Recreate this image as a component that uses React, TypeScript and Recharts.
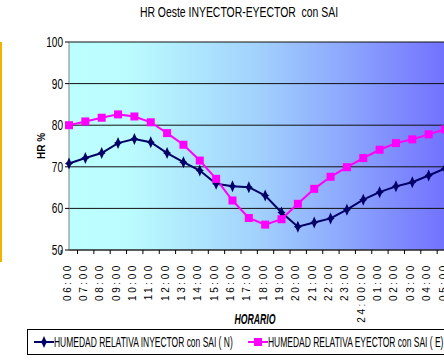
import React from "react";
import { LineChart, Line, XAxis, YAxis, CartesianGrid, Legend } from "recharts";

const hours = [
  "06:00", "07:00", "08:00", "09:00", "10:00", "11:00", "12:00", "13:00",
  "14:00", "15:00", "16:00", "17:00", "18:00", "19:00", "20:00", "21:00",
  "22:00", "23:00", "24:00:00", "01:00", "02:00", "03:00", "04:00", "05:00",
];
const inyector = [
  70.8, 72.1, 73.3, 75.7, 76.7, 75.9, 73.3, 71.1, 69.1, 65.9, 65.3, 65.1,
  63.1, 59.0, 55.6, 56.6, 57.6, 59.7, 62.1, 63.9, 65.3, 66.3, 67.9, 69.6,
];
const eyector = [
  80.0, 80.9, 81.8, 82.6, 82.1, 80.7, 78.1, 75.3, 71.5, 67.1, 61.9, 57.7,
  56.1, 57.4, 61.1, 64.7, 67.6, 69.9, 72.1, 74.1, 75.7, 76.6, 77.8, 79.0,
];
const yTicks = [50, 60, 70, 80, 90, 100];

const data = hours.map((h, i) => ({ hora: h, iny: inyector[i], eye: eyector[i] }));

const ARIAL = "'Liberation Sans', Arial, sans-serif";

const W = 458;
const H = 360;
const M = { top: 42, right: 13, left: 29, bottom: 5 };
const Y_W = 40;
const BAND = (W - M.left - M.right - Y_W) / hours.length;

const series = [
  { key: "iny", name: "HUMEDAD RELATIVA INYECTOR con SAI ( N)", color: "#000066", shape: "diamond", x: 6 },
  { key: "eye", name: "HUMEDAD RELATIVA EYECTOR con SAI ( E)", color: "#ff00ff", shape: "square", x: 220 },
];

const Diamond = ({ cx, cy, color }: any) => {
  if (cx == null || cy == null) return null;
  return (
    <polygon
      points={`${cx},${cy - 6} ${cx + 2},${cy - 1.5} ${cx + 4},${cy} ${cx + 2},${cy + 1.5} ${cx},${cy + 6} ${cx - 2},${cy + 1.5} ${cx - 4},${cy} ${cx - 2},${cy - 1.5}`}
      fill={color}
    />
  );
};

const Square = ({ cx, cy, color }: any) => {
  if (cx == null || cy == null) return null;
  return <rect x={cx - 4} y={cy - 4} width={8} height={8} fill={color} />;
};

const HourTick = ({ x, y, payload }: any) => (
  <g>
    <line x1={x - BAND / 2} x2={x - BAND / 2} y1={y - 13} y2={y - 9} stroke="#000" />
    <text
      transform={`translate(${x + 1.5},${y}) rotate(-90)`}
      textAnchor="end"
      fontSize={10}
      fontFamily={ARIAL}
      fill="#000"
      letterSpacing={2.6}
    >
      {payload.value}
    </text>
  </g>
);

const ValueTick = ({ x, y, payload }: any) => (
  <g transform={`translate(${x},${y})`}>
    <text transform="scale(0.72,1)" textAnchor="end" dy="0.36em" fontSize={14} fontFamily={ARIAL} fill="#000">
      {payload.value}
    </text>
  </g>
);

const HorarioLabel = ({ viewBox }: any) => {
  const cx = viewBox.x + viewBox.width / 2 - 2;
  const cy = viewBox.y + 74;
  return (
    <g transform={`translate(${cx},${cy})`}>
      <text transform="scale(0.58,1)" textAnchor="middle" fontSize={15} fontWeight="bold" fontStyle="italic" fontFamily={ARIAL} fill="#000">
        HORARIO
      </text>
    </g>
  );
};

const LegendBox = () => (
  <div
    style={{
      border: "1px solid #000",
      height: 26,
      boxSizing: "border-box",
      background: "#fff",
    }}
  >
    <svg width={416} height={24} style={{ display: "block" }}>
      {series.map((s) => (
        <g key={s.key}>
          <line x1={s.x} x2={s.x + 20} y1={12} y2={12} stroke={s.color} strokeWidth={2} />
          {s.shape === "diamond" ? (
            <Diamond cx={s.x + 10} cy={12} color={s.color} />
          ) : (
            <Square cx={s.x + 10} cy={12} color={s.color} />
          )}
          <g transform={`translate(${s.x + 20},17) scale(0.605,1)`}>
            <text fontSize={14} fontFamily={ARIAL} fill="#000">
              {s.name}
            </text>
          </g>
        </g>
      ))}
    </svg>
  </div>
);

export default function App() {
  return (
    <div style={{ position: "absolute", left: 0, top: 0, width: 444, height: 360, overflow: "hidden", background: "#fff" }}>
      <svg width={444} height={24} style={{ position: "absolute", left: 0, top: 0 }}>
        <g transform="translate(239,17) scale(0.745,1)">
          <text textAnchor="middle" fontSize={14} fontFamily={ARIAL} fill="#000" style={{ whiteSpace: "pre" }}>
            {"HR Oeste INYECTOR-EYECTOR  con SAI"}
          </text>
        </g>
      </svg>
      <div style={{ position: "absolute", left: 0, top: 42, width: 2, height: 220, background: "#f0b400" }} />
      <LineChart width={W} height={H} data={data} margin={M}>
        <defs>
          <linearGradient id="bgGrad" x1="0" y1="0" x2="1" y2="0">
            <stop offset="0%" stopColor="#bcffff" />
            <stop offset="15%" stopColor="#bbfdfe" />
            <stop offset="50%" stopColor="#a2d2fd" />
            <stop offset="75%" stopColor="#8ba4fd" />
            <stop offset="100%" stopColor="#7272fe" />
          </linearGradient>
        </defs>
        <CartesianGrid vertical={false} stroke="#111" fill="url(#bgGrad)" fillOpacity={1} />
        <XAxis
          dataKey="hora"
          interval={0}
          height={79}
          tickSize={4}
          tickMargin={9}
          tickLine={false}
          axisLine={{ stroke: "#333" }}
          tick={<HourTick />}
          label={<HorarioLabel />}
        />
        <YAxis
          width={Y_W}
          domain={[50, 100]}
          ticks={yTicks}
          interval={0}
          tickSize={4}
          tickMargin={2}
          axisLine={{ stroke: "#808080" }}
          tickLine={{ stroke: "#000" }}
          tick={<ValueTick />}
          label={{
            value: "HR %",
            angle: -90,
            position: "insideLeft",
            offset: 12,
            style: { fontFamily: ARIAL, fontSize: 10, fontWeight: "bold", fill: "#000", textAnchor: "middle" },
          }}
        />
        <Legend
          verticalAlign="bottom"
          align="left"
          wrapperStyle={{ left: 27, width: 440 }}
          content={<LegendBox />}
        />
        {series.map((s) => (
          <Line
            key={s.key}
            dataKey={s.key}
            name={s.name}
            stroke={s.color}
            strokeWidth={2}
            isAnimationActive={false}
            dot={(p: any) =>
              s.shape === "diamond" ? (
                <Diamond key={p.index} cx={p.cx} cy={p.cy} color={s.color} />
              ) : (
                <Square key={p.index} cx={p.cx} cy={p.cy} color={s.color} />
              )
            }
            activeDot={false}
          />
        ))}
      </LineChart>
    </div>
  );
}
